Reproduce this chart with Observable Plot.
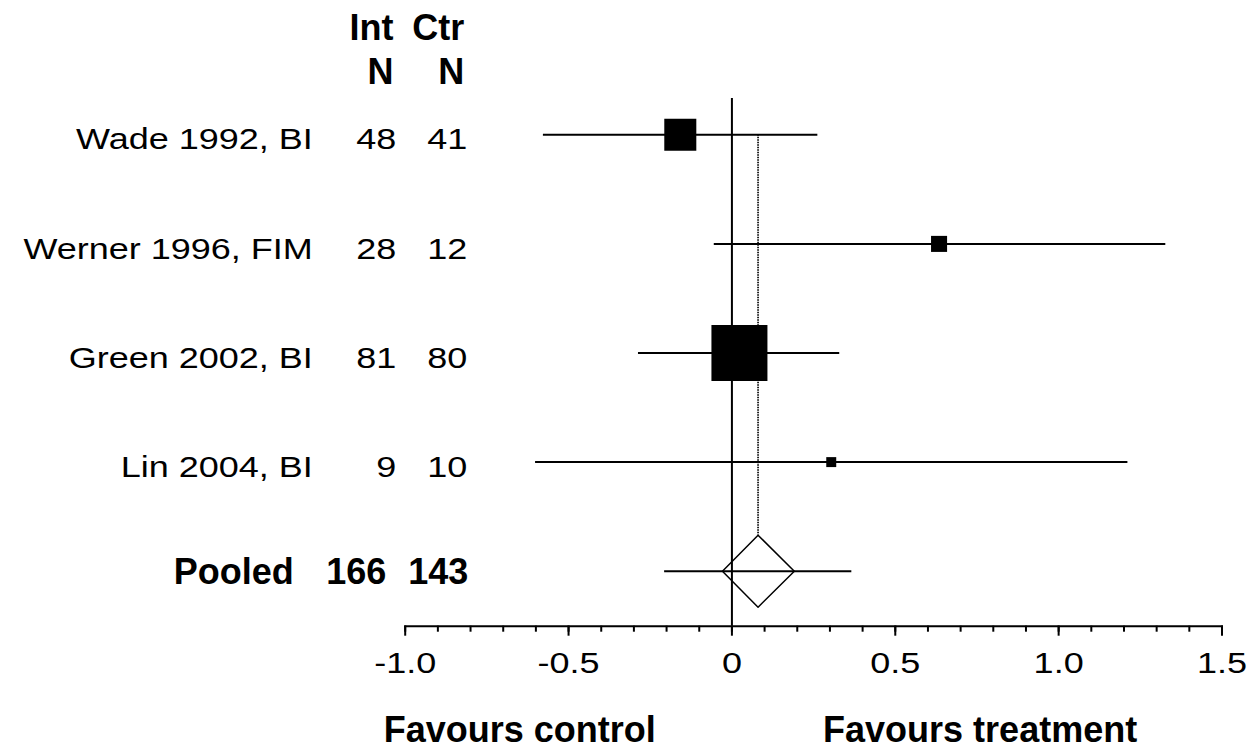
<!DOCTYPE html>
<html>
<head>
<meta charset="utf-8">
<script src="https://cdn.jsdelivr.net/npm/d3@7"></script>
<script src="https://cdn.jsdelivr.net/npm/@observablehq/plot@0.6"></script>
<style>
  body { margin: 0; background: #fff; overflow: hidden; }
  #chart svg { display: block; }
</style>
</head>
<body>
<div id="chart"></div>
<script>
// ---- data ----
const studies = ["Wade 1992, BI", "Werner 1996, FIM", "Green 2002, BI", "Lin 2004, BI"];
const intN = [48, 28, 81, 9];
const ctrN = [41, 12, 80, 10];
const estimates = [-0.158, 0.634, 0.023, 0.304];
const lower = [-0.577, -0.054, -0.286, -0.601];
const upper = [0.263, 1.328, 0.330, 1.212];
const weights = [22.7, 5.7, 69.4, 2.2];

const pooledLabel = "Pooled";
const pooledInt = 166;
const pooledCtr = 143;
const pooledEst = 0.08;
const pooledDiamondLo = -0.029;
const pooledDiamondHi = 0.191;
const pooledLineLo = -0.206;
const pooledLineHi = 0.367;

const headerTop = ["Int", "Ctr"];
const headerBottom = ["N", "N"];
const majorTicks = [-1, -0.5, 0, 0.5, 1, 1.5];
const tickLabels = ["-1.0", "-0.5", "0", "0.5", "1.0", "1.5"];
const minorTicks = d3.ticks(-1, 1.5, 25);
const favours = ["Favours control", "Favours treatment"];

// ---- build table ----
const rows = studies.map((s, i) => ({
  label: s, int: intN[i], ctr: ctrN[i], est: estimates[i],
  lo: lower[i], hi: upper[i], w: weights[i], row: i
}));
const pooledRow = studies.length;
const halfH = 0.33; // diamond half height (rows)
const diamond = [
  {x: pooledDiamondLo, y: pooledRow},
  {x: pooledEst, y: pooledRow - halfH},
  {x: pooledDiamondHi, y: pooledRow},
  {x: pooledEst, y: pooledRow + halfH},
  {x: pooledDiamondLo, y: pooledRow}
];

// column anchors in x units
const colLabel = -1.283, colInt = -1.027, colCtr = -0.810;
const headerX = [colInt, colCtr];
const favoursX = [-1.066, 0.279];

const plot = Plot.plot({
  width: 1253,
  height: 756,
  marginTop: 98,
  marginBottom: 130.3,
  marginLeft: 404.7,
  marginRight: 31.5,
  x: {domain: [-1, 1.5]},
  y: {domain: [0, 4], range: [134.3, 570.7], axis: null},
  r: {type: "sqrt", domain: [0, d3.max(weights)], range: [0, 56 / Math.sqrt(Math.PI)]},
  style: {
    fontFamily: "'Liberation Sans', Arial, Helvetica, sans-serif",
    background: "white",
    color: "black",
    overflow: "visible"
  },
  marks: [
    Plot.frame({anchor: "bottom", strokeWidth: 2}),
    Plot.axisX(minorTicks, {anchor: "bottom", tickSize: 6, strokeWidth: 2, tickFormat: () => "", label: null}),
    Plot.axisX(majorTicks, {anchor: "bottom", tickSize: 10, strokeWidth: 2, tickFormat: () => "", label: null}),
    Plot.text(majorTicks, {x: d => d, text: (d, i) => tickLabels[i], frameAnchor: "bottom", lineAnchor: "middle", dy: 37.4, fontSize: 30}),
    Plot.ruleX([0], {strokeWidth: 2}),
    Plot.ruleX([pooledEst], {y1: 0, y2: pooledRow - halfH, stroke: "#111", strokeWidth: 1.8, strokeDasharray: "1.5,1"}),
    Plot.ruleY(rows, {y: "row", x1: "lo", x2: "hi", strokeWidth: 2}),
    Plot.ruleY([pooledRow], {x1: pooledLineLo, x2: pooledLineHi, strokeWidth: 2}),
    Plot.dot(rows, {x: "est", y: "row", r: "w", symbol: "square", fill: "black"}),
    Plot.line(diamond, {x: "x", y: "y", stroke: "black", strokeWidth: 1.5, fill: "none"}),
    // row texts
    Plot.text(rows, {x: colLabel, y: "row", text: "label", textAnchor: "end", lineAnchor: "middle", fontSize: 30, dy: 5}),
    Plot.text(rows, {x: colInt, y: "row", text: d => String(d.int), textAnchor: "end", lineAnchor: "middle", fontSize: 30, dy: 5}),
    Plot.text(rows, {x: colCtr, y: "row", text: d => String(d.ctr), textAnchor: "end", lineAnchor: "middle", fontSize: 30, dy: 5}),
    // pooled row
    Plot.text([pooledLabel], {x: colLabel, y: pooledRow, text: d => d, textAnchor: "end", lineAnchor: "middle", fontSize: 36, fontWeight: "bold", dx: -19, dy: 1}),
    Plot.text([pooledInt], {x: colInt, y: pooledRow, text: d => String(d), textAnchor: "end", lineAnchor: "middle", fontSize: 36, fontWeight: "bold", dx: -10, dy: 1}),
    Plot.text([pooledCtr], {x: colCtr, y: pooledRow, text: d => String(d), textAnchor: "end", lineAnchor: "middle", fontSize: 36, fontWeight: "bold", dx: 1, dy: 1}),
    // headers
    Plot.text(headerTop, {x: (d, i) => headerX[i], y: -1, text: d => d, textAnchor: "end", lineAnchor: "middle", fontSize: 36, fontWeight: "bold", dx: -3, dy: 2.3}),
    Plot.text(headerBottom, {x: (d, i) => headerX[i], y: -0.6, text: d => d, textAnchor: "end", lineAnchor: "middle", fontSize: 36, fontWeight: "bold", dx: -3, dy: 2.7}),
    // favours
    Plot.text(favours, {x: (d, i) => favoursX[i], text: d => d, frameAnchor: "bottom", textAnchor: "start", lineAnchor: "middle", fontSize: 36, fontWeight: "bold", dy: 104})
  ]
});

document.getElementById("chart").append(plot);

// horizontally widen the regular-weight text to match the reference proportions
plot.querySelectorAll('g[font-size="30"] text').forEach(t => {
  const tr = t.getAttribute("transform") || "";
  const x = +(t.getAttribute("x") || 0);
  t.setAttribute("transform", `${tr} translate(${x},0) scale(1.2,1) translate(${-x},0)`);
});
</script>
</body>
</html>
